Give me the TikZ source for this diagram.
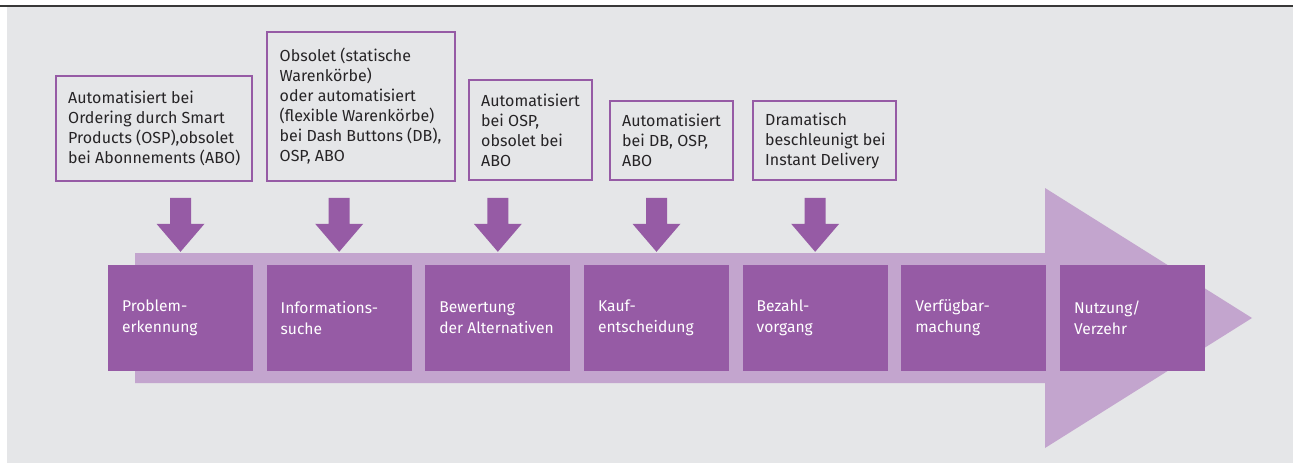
\documentclass[tikz,border=0pt]{standalone}
\usepackage{fontspec}
\setmainfont{Fira Sans}
\usetikzlibrary{calc}
\definecolor{procpurple}{RGB}{150,91,165}
\definecolor{bandpurple}{RGB}{195,165,206}
\definecolor{panelgray}{RGB}{229,230,232}
\definecolor{textgray}{RGB}{38,36,38}
\tikzset{
  stage/.style={fill=procpurple, minimum width=145pt, minimum height=106pt, inner sep=0pt},
  stagetext/.style={anchor=west, align=left, text=white, inner sep=0pt,
    font=\fontsize{15.6}{21}\selectfont},
  note/.style={draw=procpurple, line width=2pt, inner sep=0pt},
  notetext/.style={anchor=west, align=left, text=textgray, inner sep=0pt,
    font=\fontsize{16}{20}\selectfont},
  blockarrow/.pic={
    \fill[procpurple] (0,0) -- (-24,-28) -- (-10.5,-28) -- (-10.5,-54)
      -- (10.5,-54) -- (10.5,-28) -- (24,-28) -- cycle;
  }
}
\begin{document}
\begin{tikzpicture}[x=1pt, y=-1pt]
\useasboundingbox (0,0) rectangle (1298,463);
% panel and rule
\fill[panelgray] (7,7) rectangle (1293,463);
\draw[line width=1.5pt, black!78] (0,6) -- (1293,6);
% process band with arrow head
\fill[bandpurple] (135,253) -- (1045,253) -- (1045,188) -- (1252,318)
  -- (1045,448) -- (1045,383) -- (135,383) -- cycle;
% process stages
\foreach \i/\txt in {0/{Problem-\\erkennung}, 1/{Informations-\\suche},
    2/{Bewertung\\der Alternativen}, 3/{Kauf-\\entscheidung},
    4/{Bezahl-\\vorgang}, 5/{Verfügbar-\\machung}, 6/{Nutzung/\\Verzehr}}{
  \node[stage] (s\i) at ({180.5+\i*158.667},318) {};
  \node[stagetext] (l\i) at ($(s\i.west)+(14,0)$) {\txt};
}
% annotation boxes
\node[note, minimum width=196pt, minimum height=105pt] (n0) at (154,128.5) {};
\node[notetext] (t0) at ($(n0.west)+(13,0)$)
  {Automatisiert bei\\Ordering durch Smart\\Products (OSP),obsolet\\bei Abonnements (ABO)};
\node[note, minimum width=188pt, minimum height=149pt] (n1) at (361,106.5) {};
\node[notetext] (t1) at ($(n1.west)+(13.5,0)$)
  {Obsolet (statische\\Warenkörbe)\\oder automatisiert\\(flexible Warenkörbe)\\bei Dash Buttons (DB),\\OSP, ABO};
\node[note, minimum width=123pt, minimum height=100pt] (n2) at (530.5,130) {};
\node[notetext] (t2) at ($(n2.west)+(13,0)$)
  {Automatisiert\\bei OSP,\\obsolet bei\\ABO};
\node[note, minimum width=123pt, minimum height=79pt] (n3) at (671.5,140.5) {};
\node[notetext] (t3) at ($(n3.west)+(13,0)$)
  {Automatisiert\\bei DB, OSP,\\ABO};
\node[note, minimum width=143pt, minimum height=79pt] (n4) at (824.5,140.5) {};
\node[notetext] (t4) at ($(n4.west)+(13,0)$)
  {Dramatisch\\beschleunigt bei\\Instant Delivery};
% arrows from the notes down to the stages
\foreach \i in {0,...,4}{
  \pic at ($(s\i.north)+(0,-13)$) {blockarrow};
}
\end{tikzpicture}
\end{document}
